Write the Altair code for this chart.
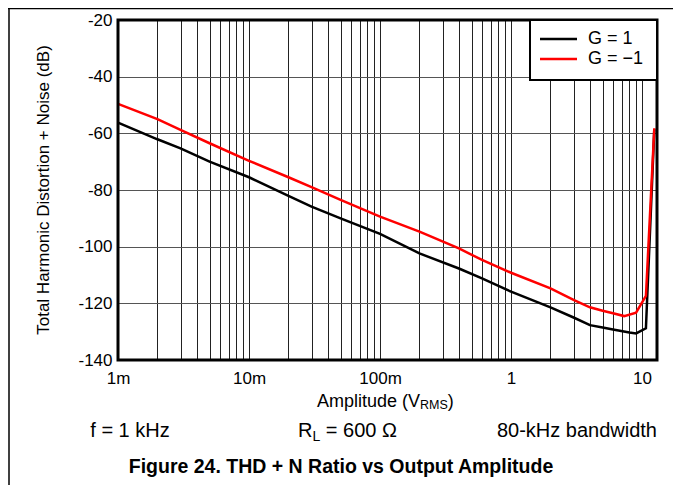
import altair as alt
import pandas as pd

# ---- data ----
series = ["G = 1", "G = \u22121"]
amp_g1 = [0.001, 0.002, 0.003, 0.005, 0.01, 0.02, 0.03, 0.05, 0.1, 0.2, 0.4, 0.6,
          1, 2, 3, 4, 5, 6, 8, 9, 10.7, 12.4]
thd_g1 = [-56.2, -62.1, -65.3, -70.0, -75.5, -82.1, -85.9, -90.0, -95.5, -102.4, -107.7, -111.2,
          -115.9, -121.4, -125.0, -127.7, -128.5, -129.2, -130.3, -130.6, -128.8, -58.5]
amp_g2 = [0.001, 0.002, 0.003, 0.005, 0.01, 0.02, 0.03, 0.05, 0.1, 0.2, 0.4, 0.6,
          1, 2, 3, 4, 5, 6, 7.3, 9, 10.7, 12.4]
thd_g2 = [-49.6, -55.0, -58.8, -63.5, -69.7, -75.5, -79.0, -83.5, -89.4, -94.7, -100.6, -104.7,
          -109.2, -114.7, -118.8, -121.4, -122.6, -123.5, -124.5, -123.3, -117.4, -58.2]

x_label_values = [0.001, 0.01, 0.1, 1, 10]
x_label_texts = ["1m", "10m", "100m", "1", "10"]
x_grid = [round(m * 10.0 ** e, 6) for e in range(-3, 2) for m in range(1, 10)]
x_grid = [v for v in x_grid if v <= 13]
y_ticks = [-140, -120, -100, -80, -60, -40, -20]

W, H = 539, 340
FONT = "Liberation Sans"

df1 = pd.DataFrame({"amp": amp_g1, "thd": thd_g1, "series": series[0]})
df2 = pd.DataFrame({"amp": amp_g2, "thd": thd_g2, "series": series[1]})

label_expr = " : ".join(f"datum.value == {v} ? '{t}'" for v, t in zip(x_label_values, x_label_texts)) + " : ''"

x_scale = alt.Scale(type="log", domain=[0.001, 13], nice=False)
y_scale = alt.Scale(domain=[-140, -20], nice=False, zero=False)

x_axis = alt.Axis(values=x_grid, labelExpr=label_expr, grid=True, ticks=False, domain=False,
                  title=None, labelFont=FONT, labelFontSize=17, labelColor="black",
                  labelPadding=10, labelFlush=False, labelOverlap=False,
                  gridColor="#222222", gridWidth=1)
y_axis = alt.Axis(values=y_ticks, labelExpr="toString(datum.value)", grid=True, ticks=False,
                  domain=False, title=None, labelFont=FONT, labelFontSize=17,
                  labelColor="black", labelPadding=6, labelFlush=False,
                  gridColor="#555555", gridWidth=1)

black = alt.Chart(df1).mark_line(color="black", strokeWidth=2.5).encode(
    x=alt.X("amp:Q", scale=x_scale, axis=x_axis),
    y=alt.Y("thd:Q", scale=y_scale, axis=y_axis),
)
red = alt.Chart(df2).mark_line(color="#ff0000", strokeWidth=2.5).encode(
    x=alt.X("amp:Q", scale=x_scale),
    y=alt.Y("thd:Q", scale=y_scale),
)

one = pd.DataFrame({"k": [0]})

border = alt.Chart(one).mark_rect(filled=False, stroke="black", strokeWidth=3).encode(
    x=alt.value(0), x2=alt.value(W), y=alt.value(0), y2=alt.value(H))

# legend
leg_box = alt.Chart(one).mark_rect(fill="white", stroke="black", strokeWidth=2).encode(
    x=alt.value(412), x2=alt.value(W), y=alt.value(0), y2=alt.value(60))
leg_df = pd.DataFrame({"s": series, "c": ["black", "#ff0000"], "yy": [19, 39]})
leg_lines = alt.Chart(leg_df).mark_rule(strokeWidth=2.5).encode(
    x=alt.value(422), x2=alt.value(459), y=alt.Y("yy:Q", scale=None),
    color=alt.Color("c:N", scale=None))
leg_text = alt.Chart(leg_df).mark_text(align="left", baseline="middle", font=FONT,
                                       fontSize=18, color="black").encode(
    x=alt.value(470), y=alt.Y("yy:Q", scale=None), text="s:N")

def txt(t, x, y, size, align="left", weight="normal", baseline="alphabetic", angle=0):
    return alt.Chart(pd.DataFrame({"t": [t]})).mark_text(
        align=align, baseline=baseline, font=FONT, fontSize=size, fontWeight=weight,
        color="black", angle=angle).encode(x=alt.value(x), y=alt.value(y), text="t:N")

texts = [
    txt("Total Harmonic Distortion + Noise (dB)", -74, H / 2, 17, align="center",
        baseline="middle", angle=270),
    txt("Amplitude (V", 199, 387, 18),
    txt("RMS", 302, 389, 12.5),
    txt(")", 329.8, 387, 18),
    txt("f = 1 kHz", 12, 417, 20, align="center"),
    txt("R", 180, 417, 20),
    txt("L", 194.4, 421, 14),
    txt("= 600 \u03a9", 207.8, 417, 20),
    txt("80-kHz bandwidth", 539, 417, 20, align="right"),
    txt("Figure 24. THD + N Ratio vs Output Amplitude", 223, 453, 19.5, align="center",
        weight="bold"),
]

# outer figure frame
frame = [
    alt.Chart(one).mark_rule(color="black", strokeWidth=1.5).encode(
        x=alt.value(-110), x2=alt.value(557), y=alt.value(-11.5)),
    alt.Chart(one).mark_rule(color="black", strokeWidth=1.5).encode(
        x=alt.value(-109), y=alt.value(-11.5), y2=alt.value(466)),
    alt.Chart(one).mark_rule(color="black", strokeWidth=1.5).encode(
        x=alt.value(556), y=alt.value(-11.5), y2=alt.value(466)),
]

chart = alt.layer(black, red, border, leg_box, leg_lines, leg_text, *texts, *frame).properties(
    width=W, height=H,
    autosize=alt.AutoSizeParams(type="none"),
    padding={"left": 110, "top": 12, "right": 16, "bottom": 125},
    background="white",
).configure_view(stroke=None)

chart.save("out.html", embed_options={"renderer": "svg", "actions": False})
